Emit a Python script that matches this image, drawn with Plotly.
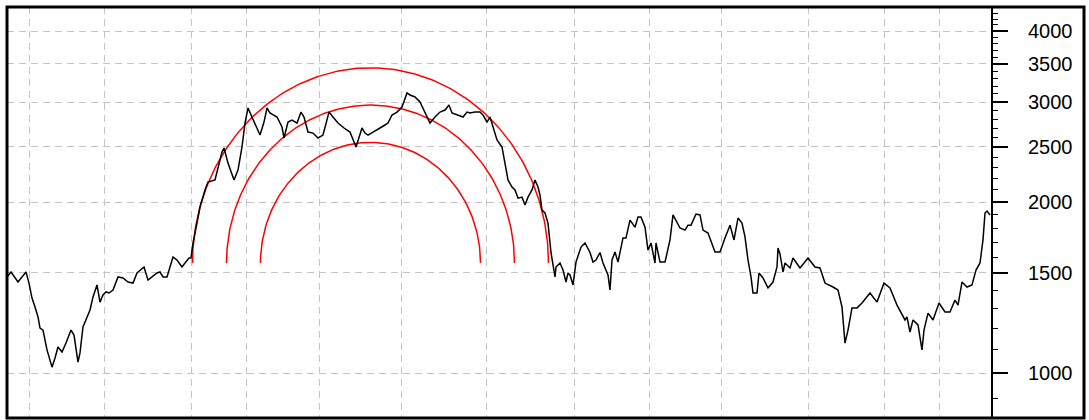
import numpy as np
import plotly.graph_objects as go

# ---- price series (trading-day index, close price) ----
days = [0, 4, 11, 19, 22, 25, 28, 31, 33, 36, 40, 45, 48, 51, 55, 59, 64, 67, 71, 73,
        76, 80, 83, 86, 90, 93, 96, 99, 102, 106, 111, 116, 121, 126, 130, 137, 141, 145, 150, 153,
        156, 160, 162, 166, 170, 175, 178, 182, 184, 186, 190, 193, 198, 201, 208, 211, 215, 217, 221, 227,
        231, 235, 238, 241, 245, 248, 253, 257, 260, 263, 270, 275, 277, 281, 285, 290, 294, 297, 301, 306,
        311, 316, 322, 326, 331, 337, 343, 349, 351, 355, 358, 361, 366, 370, 373, 378, 381, 385, 390, 395,
        400, 403, 408, 413, 418, 423, 428, 433, 438, 442, 445, 451, 456, 460, 463, 468, 473, 476, 480, 483,
        486, 490, 495, 498, 501, 505, 508, 511, 515, 518, 521, 525, 528, 531, 533, 535, 538, 541, 543, 544,
        548, 549, 553, 556, 559, 561, 563, 566, 569, 574, 578, 583, 586, 589, 593, 596, 601, 603, 605, 608,
        611, 616, 619, 623, 628, 631, 634, 638, 641, 644, 648, 649, 653, 658, 663, 666, 673, 678, 681, 684,
        689, 693, 696, 701, 708, 713, 718, 723, 727, 731, 735, 738, 741, 744, 746, 750, 752, 756, 761, 766,
        770, 771, 773, 776, 778, 783, 786, 793, 801, 808, 813, 816, 818, 826, 831, 835, 837, 838, 841, 845,
        850, 855, 863, 870, 877, 883, 890, 895, 898, 900, 903, 906, 911, 915, 917, 921, 926, 932, 938, 943,
        948, 951, 955, 960, 965, 969, 973, 976, 978, 980, 983]
prices = [1476, 1506, 1446, 1506, 1440, 1355, 1307, 1255, 1200, 1190, 1098, 1024, 1063, 1111, 1089, 1129, 1190, 1166, 1045, 1085,
          1205, 1255, 1291, 1361, 1429, 1333, 1372, 1389, 1383, 1400, 1476, 1470, 1446, 1440, 1500, 1537, 1458, 1476, 1500, 1506,
          1476, 1476, 1518, 1600, 1581, 1537, 1562, 1594, 1594, 1694, 1836, 1960, 2100, 2169, 2187, 2305, 2450, 2490, 2342, 2187,
          2277, 2500, 2755, 2928, 2823, 2755, 2624, 2766, 2928, 2869, 2823, 2711, 2593, 2766, 2789, 2755, 2880, 2823, 2656, 2645,
          2593, 2624, 2880, 2823, 2755, 2700, 2656, 2500, 2572, 2700, 2645, 2624, 2656, 2678, 2700, 2733, 2755, 2846, 2880, 2940,
          3112, 3087, 3062, 3000, 2869, 2755, 2823, 2880, 2904, 2964, 2869, 2846, 2823, 2880, 2869, 2880, 2880, 2846, 2766, 2823,
          2711, 2572, 2500, 2342, 2187, 2125, 2100, 2032, 2040, 1976, 2040, 2100, 2187, 2125, 2057, 1936, 1913, 1836, 1715, 1630,
          1476, 1537, 1562, 1518, 1446, 1500, 1488, 1429, 1568, 1666, 1694, 1630, 1568, 1581, 1630, 1562, 1488, 1400, 1581, 1633,
          1568, 1729, 1729, 1859, 1806, 1882, 1882, 1806, 1646, 1694, 1562, 1694, 1568, 1568, 1715, 1898, 1800, 1785, 1821, 1821,
          1905, 1898, 1785, 1764, 1633, 1633, 1729, 1821, 1715, 1874, 1836, 1736, 1581, 1476, 1383, 1383, 1500, 1470, 1412, 1446,
          1537, 1660, 1620, 1506, 1562, 1531, 1594, 1531, 1594, 1537, 1531, 1470, 1440, 1417, 1400, 1307, 1166, 1129, 1190, 1302,
          1302, 1328, 1383, 1333, 1440, 1412, 1317, 1265, 1240, 1255, 1180, 1240, 1215, 1098, 1190, 1275, 1240, 1328, 1281, 1281,
          1344, 1317, 1446, 1417, 1429, 1518, 1562, 1715, 1913, 1928, 1898]

# ---- Fibonacci arcs ----
arc_levels = [0.382, 0.5, 0.618]
arc_center_day = 363.5
arc_center_price = 1562
trend_len_days = 288
trend_len_decades = 0.556

# ---- axes ----
grid_days = [22, 97, 184, 239, 312, 394, 479, 567, 642, 714, 801, 877, 932]
major_ticks = [1000, 1500, 2000, 2500, 3000, 3500, 4000]
major_labels = ["1000", "1500", "2000", "2500", "3000", "3500", "4000"]
minor_ticks = [v for v in range(900, 4500, 100) if v not in major_ticks]
x_range = [0, 984]
y_range = [2.92077, 3.6444]

fig = go.Figure()

for lvl in arc_levels:
    t = np.linspace(0, np.pi, 200)
    ax = arc_center_day + lvl * trend_len_days * np.cos(t)
    ay = 10 ** (np.log10(arc_center_price) + lvl * trend_len_decades * np.sin(t))
    fig.add_trace(go.Scatter(x=ax, y=ay, mode="lines",
                             line=dict(color="#ff0000", width=1.5),
                             hoverinfo="skip", showlegend=False))

fig.add_trace(go.Scatter(x=days, y=prices, mode="lines",
                         line=dict(color="#000000", width=1.5),
                         showlegend=False))

fig.update_layout(
    width=1089, height=420,
    margin=dict(l=7, r=98, t=7, b=2),
    paper_bgcolor="white", plot_bgcolor="white",
    font=dict(family="Liberation Sans, Arial, sans-serif", size=20, color="#000000"),
    showlegend=False,
)
fig.update_xaxes(
    range=x_range, tickmode="array", tickvals=grid_days, showticklabels=False,
    ticks="", showgrid=True, gridcolor="#c4c4c4", gridwidth=1, griddash="7px,5px",
    zeroline=False, showline=False,
)
fig.update_yaxes(
    type="log", range=y_range, side="right",
    tickmode="array", tickvals=major_ticks, ticktext=major_labels,
    ticks="outside", ticklen=15, tickwidth=2, tickcolor="#000000",
    ticklabelstandoff=16,
    showgrid=True, gridcolor="#c4c4c4", gridwidth=1, griddash="7px,5px",
    showline=True, linecolor="#000000", linewidth=2,
    zeroline=False,
    minor=dict(tickmode="array", tickvals=minor_ticks, ticks="outside",
               ticklen=5, tickwidth=1, tickcolor="#000000", showgrid=False),
)

fig.add_shape(type="rect", xref="paper", yref="paper",
              x0=0, x1=(1084 - 7) / 984, y0=0, y1=1,
              line=dict(color="#000000", width=3), layer="above")

fig.write_html("out.html")
